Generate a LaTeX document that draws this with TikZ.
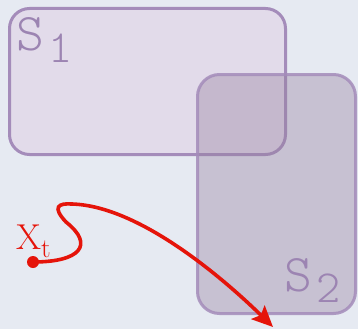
\documentclass[tikz,border=0pt]{standalone}
\usetikzlibrary{arrows.meta}
\definecolor{bgcol}{HTML}{E6EAF2}
\definecolor{setone}{HTML}{E2DBEA}
\definecolor{setedge}{HTML}{A48CBA}
\definecolor{settwo}{HTML}{96809F}
\definecolor{setlabel}{HTML}{9C84B2}
\definecolor{pathred}{HTML}{E5140A}
\tikzset{
  setbox/.style={draw=setedge, line width=3pt, rounded corners=20pt, inner sep=0pt},
  setname/.style={text=setlabel, inner sep=0pt, anchor=base west,
    font=\ttfamily\fontseries{l}\selectfont},
  walk/.style={draw=pathred, line width=3.6pt, line cap=round,
    -{Stealth[length=21pt, width=19pt, inset=4pt]}},
}
\newcommand{\setsym}[1]{{\fontsize{53}{53}\selectfont S}\hspace{4pt}\raisebox{-11pt}{\fontsize{46}{46}\selectfont #1}}
\begin{document}
\begin{tikzpicture}[x=1pt, y=-1pt]
  \fill[bgcol] (0,0) rectangle (358,329);
  \useasboundingbox (0,0) rectangle (358,329);

  % first set
  \node[setbox, fill=setone, minimum width=276pt, minimum height=146pt]
    (s1) at (147.5,81.5) {};
  % second set, translucent so the first one shows through
  \node[setbox, fill=settwo, fill opacity=0.38, draw opacity=0.85,
    rounded corners=22pt, minimum width=158pt, minimum height=239pt]
    (s2) at (276.5,194) {};

  \node[setname] (s1lab) at (16,51) {\setsym{1}};
  \node[setname] (s2lab) at (284,291) {\setsym{2}};

  % starting point and its trajectory
  \node[circle, fill=pathred, inner sep=0pt, minimum size=12pt] (xt) at (33,262) {};
  \node[text=pathred, inner sep=0pt, anchor=base west] (xtlab) at (16,249)
    {\fontsize{36}{36}\selectfont X\raisebox{-8pt}{\fontsize{27}{27}\selectfont t}};
  \coordinate (bend) at (66,222);
  \coordinate (top) at (72,204);
  \coordinate (tip) at (273,327);
  \draw[walk] (xt.center) .. controls (80,262) and (95,245) .. (bend)
    .. controls (52,207) and (58,203) .. (top)
    .. controls (140,206) and (225,280) .. (tip);
\end{tikzpicture}
\end{document}
